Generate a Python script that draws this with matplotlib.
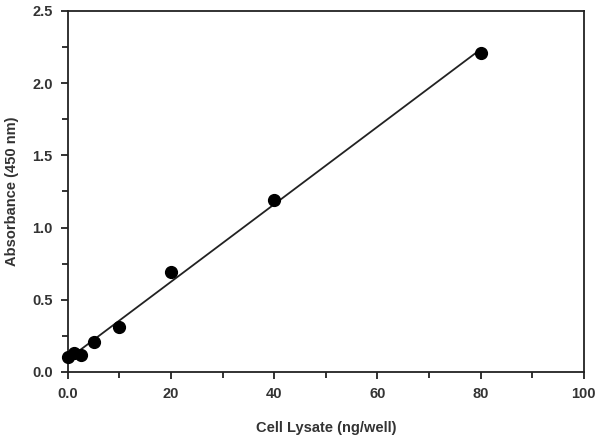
import numpy as np
import matplotlib.pyplot as plt
from matplotlib.ticker import MultipleLocator, FuncFormatter

lysate = [0, 1.25, 2.5, 5, 10, 20, 40, 80]
absorbance = [0.10, 0.13, 0.12, 0.21, 0.31, 0.69, 1.19, 2.21]

plt.rcParams['font.family'] = ['Liberation Sans', 'DejaVu Sans']

fig = plt.figure(figsize=(6, 4.36), dpi=100)
ax = fig.add_axes([0.113, 0.147, 0.86, 0.828])

slope, icpt = np.polyfit(lysate, absorbance, 1)
xl = np.array([0, 80])
ax.plot(xl, slope * xl + icpt, color='#222222', lw=1.3)
ax.plot(lysate, absorbance, 'o', color='black', ms=8.5, clip_on=False, zorder=3)

ax.set_xlim(0, 100)
ax.set_ylim(0, 2.5)
ax.xaxis.set_major_locator(MultipleLocator(20))
ax.xaxis.set_minor_locator(MultipleLocator(10))
ax.yaxis.set_major_locator(MultipleLocator(0.5))
ax.yaxis.set_minor_locator(MultipleLocator(0.25))
ax.xaxis.set_major_formatter(FuncFormatter(lambda v, p: '0.0' if v == 0 else '%d' % v))
ax.yaxis.set_major_formatter(plt.FormatStrFormatter('%.1f'))

for s in ax.spines.values():
    s.set_linewidth(1.3)
    s.set_color('#222222')
ax.tick_params(which='both', direction='out', width=1.3, color='#222222')
ax.tick_params(which='major', length=5, labelsize=10.5, pad=6)
ax.tick_params(which='minor', length=4)
for lab in ax.get_xticklabels() + ax.get_yticklabels():
    lab.set_fontweight('bold')
    lab.set_color('#333333')

ax.set_xlabel('Cell Lysate (ng/well)', fontsize=10.5, fontweight='bold', color='#333333', labelpad=14)
ax.set_ylabel('Absorbance (450 nm)', fontsize=10.5, fontweight='bold', color='#333333', labelpad=9)

fig.savefig('out.png', dpi=100)
